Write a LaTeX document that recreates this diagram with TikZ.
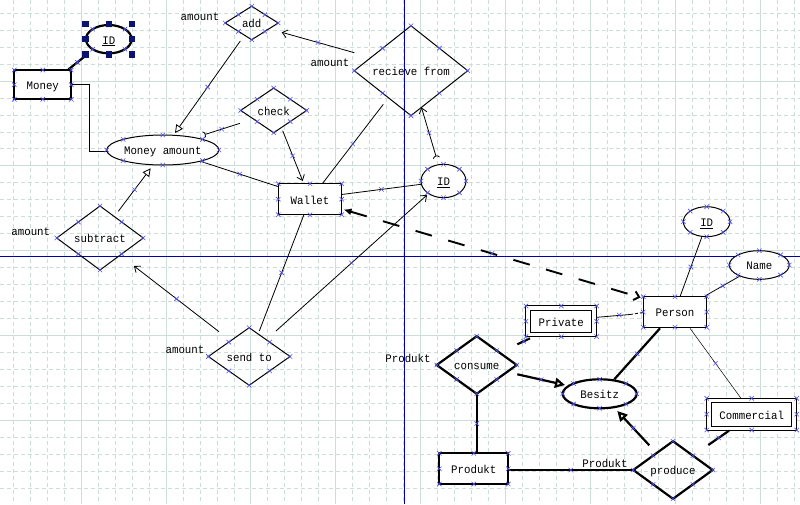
\documentclass[tikz,border=0pt]{standalone}
\usepackage{fontspec}
\newfontfamily\erfont[FakeStretch=0.935]{Liberation Mono}
\usetikzlibrary{shapes.geometric,arrows.meta,calc}
\definecolor{gridc}{RGB}{204,222,218}
\definecolor{axisc}{RGB}{0,0,168}
\definecolor{markc}{RGB}{80,80,235}
\definecolor{handc}{RGB}{10,20,110}
\tikzset{
  txt/.style={font=\erfont\fontsize{11.5}{13}\selectfont, text height=11pt, text depth=1.4pt, inner sep=0pt, outer sep=0pt},
  rectent/.style={txt, rectangle, draw, fill=white, line width=1.3pt},
  dblent/.style={txt, rectangle, draw, fill=white, line width=1pt},
  thickent/.style={txt, rectangle, draw, fill=white, line width=2.2pt},
  attr/.style={txt, ellipse, draw, fill=white, line width=1pt},
  thickattr/.style={txt, ellipse, draw, fill=white, line width=2.2pt},
  rel/.style={txt, diamond, draw, line width=1pt},
  thickrel/.style={txt, diamond, draw, line width=2.2pt},
  lbl/.style={txt},
  conn/.style={line width=0.8pt},
  thk/.style={line width=2.2pt},
  tipv/.style={-{Straight Barb[length=5pt,width=8pt]}},
  tiptri/.style={-{Triangle[open,length=8pt,width=8pt]}},
  tiptrib/.style={-{Triangle[open,length=10pt,width=10pt]}},
  gridmin/.style={gridc, line width=0.8pt, dash pattern=on 4pt off 3pt},
  gridmaj/.style={gridc, line width=1pt},
  axisln/.style={axisc, line width=1.3pt},
  handle/.style={fill=handc},
  xm/.pic={\draw[-,solid,line width=0.6pt,markc] (-2.2,-2.2)--(2.2,2.2) (-2.2,2.2)--(2.2,-2.2);},
}
\newcommand\mkbox[1]{\foreach \a in {north,south,east,west,north east,north west,south east,south west}{\pic at (#1.\a) {xm};}}
\newcommand\mkell[3]{\foreach \t in {0,45,...,315}{\pic at ($(#1)+({#2*cos(\t)},{#3*sin(\t)})$) {xm};}}
\begin{document}
\begin{tikzpicture}[x=1pt,y=-1pt]
\useasboundingbox (0,0) rectangle (800,504);
\fill[white] (0,0) rectangle (800,504);
% grid
\foreach \i in {-4,...,42}{
  \pgfmathsetmacro\gx{81.2+16.97*\i}
  \pgfmathtruncatemacro\gm{mod(\i+100,5)}
  \ifnum\gm=0 \draw[gridmaj] (\gx,0) -- (\gx,504); \else \draw[gridmin] (\gx,0) -- (\gx,504); \fi
}
\foreach \j in {-4,...,24}{
  \pgfmathsetmacro\gy{81+16.97*\j}
  \pgfmathtruncatemacro\gm{mod(\j+100,5)}
  \ifnum\gm=0 \draw[gridmaj] (0,\gy) -- (800,\gy); \else \draw[gridmin] (0,\gy) -- (800,\gy); \fi
}
\draw[axisln] (404.3,0) -- (404.3,504);
\draw[axisln] (0,256.3) -- (800,256.3);

% nodes
\node[thickent, minimum width=57, minimum height=29.3] (money) at (42.8,84.7) {Money};
\node[thickattr, minimum width=45.7, minimum height=28.3] (idm) at (108.8,39.2) {\underline{ID}};
\node[attr, minimum width=112.3, minimum height=30] (mamount) at (162.8,150) {Money amount};
\node[rel, minimum width=53, minimum height=33.5] (add) at (251.7,23) {add};
\node[rel, minimum width=113.4, minimum height=69] (recv) at (411,70.7) {recieve from};
\node[rel, minimum width=66, minimum height=39.3] (check) at (273.7,110.4) {check};
\node[rectent, minimum width=63.4, minimum height=31] (wallet) at (310,199.2) {Wallet};
\node[attr, minimum width=45, minimum height=33.4] (idw) at (443.5,181) {\underline{ID}};
\node[rel, minimum width=86.6, minimum height=52.6] (subtract) at (100,238) {subtract};
\node[rel, minimum width=81.7, minimum height=49] (sendto) at (249.2,356.5) {send to};
\node[rectent, minimum width=63.4, minimum height=30.6] (person) at (675,312) {Person};
\node[attr, minimum width=46.7, minimum height=30] (idp) at (706.7,221.7) {\underline{ID}};
\node[attr, minimum width=60, minimum height=28.6] (name) at (759.3,265) {Name};
\node[dblent, minimum width=70.7, minimum height=30.7] (private) at (561.3,321.3) {Private};
\draw[line width=1pt] ($(private.north west)+(4.7,4.8)$) rectangle ($(private.south east)+(-5,-4)$);
\node[dblent, minimum width=90, minimum height=31.7] (commercial) at (751.7,414.2) {Commercial};
\draw[line width=1pt] ($(commercial.north west)+(5,4.4)$) rectangle ($(commercial.south east)+(-5,-4)$);
\node[thickrel, minimum width=80, minimum height=48.6] (consume) at (476.7,365) {consume};
\node[thickattr, minimum width=74, minimum height=29] (besitz) at (599.7,393.8) {Besitz};
\node[thickent, minimum width=69, minimum height=30.7] (produkt) at (473.8,468.7) {Produkt};
\node[thickrel, minimum width=79.4, minimum height=48] (produce) at (673,470) {produce};

% labels
\node[lbl] (l1) at (200,15.2) {amount};
\node[lbl] (l2) at (330,61.8) {amount};
\node[lbl] (l3) at (30.8,230.5) {amount};
\node[lbl] (l4) at (185,348.5) {amount};
\node[lbl] (l5) at (408,357.2) {Produkt};
\node[lbl] (l6) at (605,462.2) {Produkt};

% connectors
\draw[thk] ($(money)+(25.5,-15.2)$) -- ($(idm)+(-22.3,15.8)$) pic[pos=.5]{xm};
\draw[conn] (money.east) -- ++(18.5,0) |- ($(mamount.west)+(0,1.7)$);
\draw[conn, tiptri] ($(add)+(-11.4,18)$) -- ($(mamount)+(12.2,-17)$) pic[pos=.5]{xm};
\draw[conn, tipv] ($(recv)+(-56.7,-18)$) -- ($(add)+(30,9.3)$) pic[pos=.5]{xm};
\draw[conn, -{Arc Barb[reversed,length=2.5pt,width=7pt]}] ($(check)+(-33.7,12.9)$) -- ($(mamount)+(40.5,-15)$) pic[pos=.5]{xm};
\draw[conn, tipv] ($(check)+(9,20.3)$) -- ($(wallet)+(-7.3,-18.2)$) pic[pos=.5]{xm};
\draw[conn] ($(mamount)+(38.9,11.7)$) -- ($(wallet)+(-32.3,-12.7)$) pic[pos=.5]{xm};
\draw[conn] ($(recv)+(-27.7,33.6)$) -- ($(wallet)+(12.3,-15.5)$) pic[pos=.5]{xm};
\draw[conn, {Arc Barb[reversed,length=2.5pt,width=7pt]}-{Straight Barb[length=5pt,width=8pt]}] ($(idw)+(-7,-23)$) -- ($(recv)+(10.5,36.8)$) pic[pos=.5]{xm};
\draw[conn] ($(wallet)+(31.7,-4.7)$) -- ($(idw)+(-22.5,3.3)$) pic[pos=.5]{xm};
\draw[line width=1.9pt, dash pattern=on 17pt off 17pt, {Latex[length=8pt,width=7pt]}-{Straight Barb[length=5pt,width=9pt]}] ($(wallet)+(33.5,10.3)$) -- ($(person)+(-34.5,-14.5)$) pic[pos=.5]{xm};
\draw[conn, tiptri] ($(subtract)+(18.3,-26.7)$) -- ($(mamount)+(-12.1,18.3)$) pic[pos=.5]{xm};
\draw[conn, tipv] ($(sendto)+(-30.2,-24.8)$) -- ($(subtract)+(34,28)$) pic[pos=.5]{xm};
\draw[conn] ($(sendto)+(10.1,-25.5)$) -- ($(wallet)+(-6,15.3)$) pic[pos=.5]{xm};
\draw[conn, tipv] ($(sendto)+(26.8,-25.5)$) -- ($(idw)+(-16.5,14)$) pic[pos=.5]{xm};
\draw[conn] ($(person)+(5,-15.3)$) -- ($(idp)+(-5,15.6)$) pic[pos=.5]{xm};
\draw[conn] ($(person)+(30.5,-16.3)$) -- ($(name)+(-19.3,11)$) pic[pos=.5]{xm};
\draw[conn] ($(private)+(35.4,-4)$) -- ($(person)+(-45,2.5)$);
\draw[conn, dash pattern=on 3pt off 2pt] ($(person)+(-45,2.5)$) -- ($(person)+(-32,0.5)$);
\pic at ($(private)+(58,-6.3)$) {xm};
\draw[thk] ($(private)+(-31.3,17)$) -- ($(consume)+(40.6,-20.7)$) pic[pos=.5]{xm};
\draw[thk, tiptrib] ($(consume)+(40.6,9.3)$) -- ($(besitz)+(-34.7,-8.8)$) pic[pos=.5]{xm};
\draw[thk] ($(person)+(-15,16.3)$) -- ($(besitz)+(14.6,-14.5)$) pic[pos=.5]{xm};
\draw[line width=0.5pt] ($(person)+(15,16.3)$) -- ($(commercial)+(-10.7,-15.9)$) pic[pos=.5]{xm};
\draw[thk] ($(commercial)+(-22.7,16.5)$) -- ($(produce)+(35.3,-25)$) pic[pos=.5]{xm};
\draw[thk] (consume.south) -- (consume.south |- produkt.north) pic[pos=.5]{xm};
\draw[thk] (produkt.east |- produce.west) -- (produce.west) pic[pos=.5]{xm};
\draw[thk, tiptrib] ($(produce)+(-23.7,-24.7)$) -- ($(besitz)+(17.6,17.2)$) pic[pos=.5]{xm};

% anchor marks
\mkbox{money}
\mkbox{wallet}
\mkbox{person}
\mkbox{private}
\mkbox{commercial}
\mkbox{produkt}
\mkbox{add}
\mkbox{recv}
\mkbox{check}
\mkbox{subtract}
\mkbox{sendto}
\mkbox{consume}
\mkbox{produce}
\mkell{idm}{22.85}{14.15}
\mkell{mamount}{56.15}{15}
\mkell{idw}{22.5}{16.7}
\mkell{idp}{23.35}{15}
\mkell{name}{30}{14.3}
\mkell{besitz}{37}{14.5}

% selection handles
\foreach \hx/\hy in {-1/-1,0/-1,1/-1,-1/0,1/0,-1/1,0/1,1/1}{
  \fill[handle] ($(idm)+(\hx*23.3,\hy*15.4)$) +(-3.2,-3.2) rectangle +(3.2,3.2);
}
\end{tikzpicture}
\end{document}
